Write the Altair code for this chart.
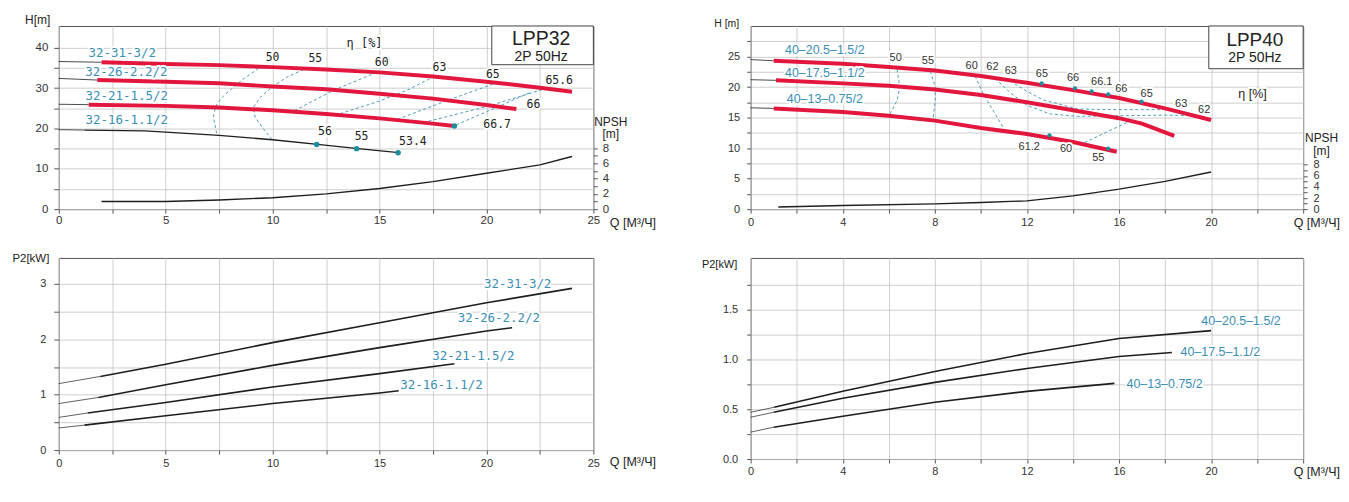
import altair as alt
import pandas as pd

# ===================== DATA =====================
# ---------- LPP32 : H-Q ----------
lpp32_names = ["32-31-3/2", "32-26-2.2/2", "32-21-1.5/2", "32-16-1.1/2"]
lpp32_h_at_zero = [36.6, 32.4, 26.0, 19.7]
q_32_31 = [2.0, 5.0, 7.5, 10.0, 12.5, 15.0, 17.5, 20.0, 22.5, 24.0]
h_32_31 = [36.4, 36.0, 35.7, 35.2, 34.6, 33.9, 32.9, 31.6, 30.1, 29.1]
q_32_26 = [1.8, 5.0, 7.5, 10.0, 12.5, 15.0, 17.5, 20.0, 21.4]
h_32_26 = [32.0, 31.6, 31.2, 30.4, 29.7, 28.6, 27.4, 25.8, 24.8]
q_32_21 = [1.4, 5.0, 7.5, 10.0, 12.5, 15.0, 17.5, 18.5]
h_32_21 = [25.9, 25.6, 25.2, 24.5, 23.6, 22.5, 21.2, 20.6]
q_32_16 = [1.2, 4.0, 5.0, 7.5, 10.0, 12.1, 14.0, 15.9]
h_32_16 = [19.6, 19.4, 19.1, 18.3, 17.2, 16.05, 15.0, 14.0]
q_npsh32 = [2.0, 5.0, 7.5, 10.0, 12.5, 15.0, 17.5, 20.0, 22.5, 24.0]
npsh32 = [1.0, 1.0, 1.2, 1.5, 2.0, 2.7, 3.6, 4.7, 5.8, 6.9]
eff32_names = ["50", "55", "60", "63", "65", "65.6", "66"]
eff32_q = [
    [9.34, 8.64, 8.17, 7.71, 7.40, 7.24, 7.27, 7.40],
    [11.44, 10.66, 9.96, 9.42, 9.11, 9.18, 9.57, 9.96],
    [14.86, 12.83, 10.97],
    [17.34, 16.3, 15.0, 13.0],
    [20.3, 18.0, 15.8],
    [22.6, 20.0, 17.0],
    [22.0, 20.2, 18.5],
]
eff32_h = [
    [34.9, 32.3, 30.2, 28.1, 26.1, 23.6, 21.6, 18.5],
    [34.6, 32.7, 30.2, 27.7, 25.3, 22.8, 19.9, 17.3],
    [33.9, 29.4, 24.3],
    [32.3, 29.5, 26.8, 23.4],
    [31.0, 26.6, 22.2],
    [29.6, 25.4, 21.4],
    [28.8, 24.6, 20.7],
]
eff32_lbl = ["50", "55", "60", "63", "65", "65.6", "66", "66.7", "56", "55", "53.4"]
eff32_lbl_q = [10.0, 12.0, 15.1, 17.8, 20.3, 23.4, 22.2, 20.5, 12.45, 14.16, 16.56]
eff32_lbl_h = [37.5, 37.3, 36.2, 35.1, 33.3, 31.8, 25.8, 20.9, 19.1, 17.9, 16.6]
dots32_q = [12.06, 13.93, 15.87, 18.5]
dots32_h = [16.05, 15.0, 14.0, 20.6]
name32_q = [2.97, 3.16, 3.18, 3.18]
name32_h = [38.7, 33.9, 28.0, 22.1]

# ---------- LPP40 : H-Q ----------
lpp40_names = ["40–20.5–1.5/2", "40–17.5–1.1/2", "40–13–0.75/2"]
lpp40_h_at_zero = [24.5, 21.2, 16.6]
q_40_20 = [1.0, 4.0, 6.0, 8.0, 10.0, 12.0, 14.0, 16.0, 18.0, 20.0]
h_40_20 = [24.3, 23.8, 23.3, 22.7, 21.8, 20.7, 19.5, 18.2, 16.5, 14.6]
q_40_17 = [1.1, 4.0, 6.0, 8.0, 10.0, 12.0, 14.0, 16.0, 17.0, 18.4]
h_40_17 = [21.1, 20.6, 20.2, 19.6, 18.7, 17.5, 16.2, 14.9, 14.0, 12.0]
q_40_13 = [1.0, 4.0, 6.0, 8.0, 10.0, 12.0, 14.0, 15.9]
h_40_13 = [16.5, 15.9, 15.3, 14.5, 13.3, 12.3, 11.0, 9.4]
q_npsh40 = [1.2, 4.0, 8.0, 10.0, 12.0, 14.0, 16.0, 18.0, 20.0]
npsh40 = [0.4, 0.65, 0.95, 1.2, 1.5, 2.4, 3.6, 5.0, 6.7]
eff40_names = ["50", "55", "60", "62", "63", "55b"]
eff40_q = [
    [6.36, 6.48, 6.36, 6.04],
    [7.80, 8.02, 8.02, 7.92],
    [9.75, 10.1, 10.98],
    [10.62, 11.3, 12.0, 13.0, 14.2, 16.0, 18.0, 19.4],
    [11.27, 12.0, 12.7, 14.2, 16.0, 18.2],
    [14.5, 16.4],
]
eff40_h = [
    [22.9, 20.0, 17.8, 15.5],
    [22.6, 20.0, 17.8, 14.8],
    [21.8, 18.9, 13.3],
    [21.4, 19.0, 17.0, 15.6, 15.2, 15.3, 15.4, 15.3],
    [21.0, 19.3, 17.9, 16.4, 16.3, 16.3],
    [10.9, 14.3],
]
eff40_lbl = ["50", "55", "60", "62", "63", "65", "66", "66.1", "66", "65", "63", "62", "61.2", "60", "55"]
eff40_lbl_q = [6.3, 7.7, 9.6, 10.5, 11.3, 12.65, 14.0, 15.25, 16.1, 17.2, 18.7, 19.7, 12.1, 13.7, 15.1]
eff40_lbl_h = [24.7, 24.2, 23.4, 23.2, 22.7, 22.1, 21.4, 20.8, 19.7, 18.9, 17.2, 16.2, 10.2, 9.8, 8.3]
dots40_q = [12.64, 14.09, 14.81, 15.53, 16.98, 12.98, 15.53]
dots40_h = [20.6, 19.8, 19.3, 18.8, 17.6, 12.1, 9.9]
name40_q = [3.22, 3.22, 3.22]
name40_h = [26.1, 22.3, 18.0]

# ---------- LPP32 : P2-Q ----------
p2_32_at_zero = [1.20, 0.84, 0.59, 0.40]
pq_32_31 = [1.94, 5.0, 10.0, 15.0, 20.0, 24.0]
p_32_31 = [1.33, 1.55, 1.94, 2.30, 2.66, 2.92]
pq_32_26 = [1.85, 5.0, 10.0, 15.0, 20.0, 21.2]
p_32_26 = [0.95, 1.18, 1.53, 1.85, 2.15, 2.21]
pq_32_21 = [1.35, 5.0, 10.0, 15.0, 18.5]
p_32_21 = [0.67, 0.86, 1.14, 1.38, 1.56]
pq_32_16 = [1.2, 5.0, 10.0, 15.0, 15.9]
p_32_16 = [0.45, 0.62, 0.84, 1.03, 1.07]
pname32_q = [21.46, 20.58, 19.39, 17.9]
pname32_p = [3.0, 2.39, 1.70, 1.17]

# ---------- LPP40 : P2-Q ----------
p2_40_at_zero = [0.47, 0.42, 0.27]
pq_40_20 = [1.02, 4.0, 8.0, 12.0, 16.0, 20.0]
p_40_20 = [0.52, 0.68, 0.88, 1.06, 1.21, 1.29]
pq_40_17 = [1.0, 4.0, 8.0, 12.0, 16.0, 18.3]
p_40_17 = [0.47, 0.61, 0.77, 0.91, 1.03, 1.07]
pq_40_13 = [1.0, 4.0, 8.0, 12.0, 15.8]
p_40_13 = [0.32, 0.43, 0.57, 0.68, 0.76]
pname40_q = [21.3, 20.4, 17.98]
pname40_p = [1.39, 1.07, 0.75]

# ---------- tick values ----------
ticks_q25 = [0, 2.5, 5, 7.5, 10, 12.5, 15, 17.5, 20, 22.5, 25]
ticks_q24 = [0, 2, 4, 6, 8, 10, 12, 14, 16, 18, 20, 22, 24]
ticks_h45 = [0, 5, 10, 15, 20, 25, 30, 35, 40]
ticks_h30 = [0, 2.5, 5, 7.5, 10, 12.5, 15, 17.5, 20, 22.5, 25, 27.5]
ticks_npsh = [0, 1, 2, 3, 4, 5, 6, 7, 8]
ticks_p35 = [0, 0.5, 1, 1.5, 2, 2.5, 3]
ticks_p2 = [0, 0.25, 0.5, 0.75, 1, 1.25, 1.5, 1.75]

# ===================== STYLE =====================
FONT = "Liberation Sans"
MONO = "DejaVu Sans Mono"
RED = "#e3173e"
TEAL_TXT = "#3a8fb7"
TEAL_DASH = "#4f9cc0"
DOT = "#1b8e9e"
INK = "#1e1e1e"
GRID = "#c2c2c2"
QTITLE = "Q [М³/Ч]"


def line_df(series):
    rows = []
    for name, qs, vs in series:
        for i, (q, v) in enumerate(zip(qs, vs)):
            rows.append({"c": name, "o": i, "q": q, "v": v})
    return pd.DataFrame(rows)


def thin_df(series, v0s):
    return line_df([(n, [0.0, qs[0]], [v0, vs[0]]) for (n, qs, vs), v0 in zip(series, v0s)])


def text_df(texts, qs, vs):
    return pd.DataFrame({"t": texts, "q": qs, "v": vs})


def mk_axis(values, test, tick, pad, size=11, fmt=None, **kw):
    args = dict(values=values, labelExpr=f"({test}) ? datum.label : ''", tickSize=tick,
                labelPadding=pad, labelFontSize=size, labelFlush=False, labelOverlap=False,
                grid=True, domain=False)
    if fmt:
        args["format"] = fmt
    args.update(kw)
    return alt.Axis(**args)


def lines(df, X, Y, **mk):
    return alt.Chart(df).mark_line(**mk).encode(x=X, y=Y, detail="c:N", order="o:Q")


def texts(df, X, Y, color, size, font, halo=True, align="center"):
    base = alt.Chart(df).encode(x=X, y=Y, text="t:N")
    out = []
    if halo:
        out.append(base.mark_text(font=font, fontSize=size, align=align, baseline="middle",
                                  color="white", stroke="white", strokeWidth=4, strokeJoin="round"))
    out.append(base.mark_text(font=font, fontSize=size, align=align, baseline="middle", color=color))
    return out


def qtitle(tx, ty):
    return dict(title=QTITLE, titleX=tx, titleY=ty, titleAlign="left", titleBaseline="middle",
                titleFontSize=12.5, titleAngle=0)


def ytitle(t, tx, ty, size):
    return dict(title=t, titleX=tx, titleY=ty, titleAlign="right", titleBaseline="middle",
                titleFontSize=size, titleAngle=0)


# ===================== PANEL LPP32 H-Q =====================
X1 = alt.X("q:Q", scale=alt.Scale(domain=[0, 25], nice=False),
           axis=mk_axis(ticks_q25, "datum.value % 5 === 0", 4, 1.5, 11.5, **qtitle(553, 13)))
Y1 = alt.Y("v:Q", scale=alt.Scale(domain=[0, 45.4], nice=False),
           axis=mk_axis(ticks_h45, "datum.value % 10 === 0", 5, 6, 11.5, **ytitle("H[m]", -9, -6, 12)))

red32 = [(lpp32_names[0], q_32_31, h_32_31), (lpp32_names[1], q_32_26, h_32_26),
         (lpp32_names[2], q_32_21, h_32_21)]
blk32 = [(lpp32_names[3], q_32_16, h_32_16)]
thin32 = thin_df(red32 + blk32, lpp32_h_at_zero)

lt_layers = [
    lines(line_df(list(zip(eff32_names, eff32_q, eff32_h))), X1, Y1,
          color=TEAL_DASH, strokeWidth=1, strokeDash=[3, 2.5]),
    lines(thin32, X1, Y1, color=INK, strokeWidth=0.8),
    lines(line_df(red32), X1, Y1, color=RED, strokeWidth=4),
    lines(line_df(blk32), X1, Y1, color=INK, strokeWidth=1.4),
    alt.Chart(pd.DataFrame({"q": dots32_q, "v": dots32_h})).mark_circle(size=30, color=DOT, opacity=1)
    .encode(x=X1, y=Y1),
]
lt_layers += texts(text_df(eff32_lbl, eff32_lbl_q, eff32_lbl_h), X1, Y1, "#222", 11.5, MONO)
lt_layers += texts(text_df(lpp32_names, name32_q, name32_h), X1, Y1, TEAL_TXT, 12.5, MONO)
lt_layers += texts(text_df(["η [%]"], [14.3], [41.1]), X1, Y1, "#222", 12, MONO)
lt_layers.append(alt.Chart(pd.DataFrame({"q": [20.25], "q2": [25], "v": [35.8], "v2": [45.4]}))
                 .mark_rect(fill="white", stroke="#444", strokeWidth=1)
                 .encode(x=X1, x2="q2:Q", y=Y1, y2="v2:Q"))
lt_layers += texts(text_df(["LPP32"], [22.56], [42.2]), X1, Y1, "#222", 19.5, FONT, halo=False)
lt_layers += texts(text_df(["2P 50Hz"], [22.56], [37.8]), X1, Y1, "#222", 14, FONT, halo=False)

npsh_ax1 = alt.Axis(orient="right", values=ticks_npsh, labelExpr="datum.value % 2 === 0 ? datum.label : ''",
                    grid=False, domain=False, tickSize=4, labelPadding=5, labelFontSize=11.5,
                    labelFlush=False, labelOverlap=False,
                    title=["NPSH", "[m]"], titleAngle=0, titleX=17, titleY=91, titleAlign="center",
                    titleBaseline="top", titleLineHeight=12, titleFontSize=12)
npsh1 = alt.Chart(pd.DataFrame({"q": q_npsh32, "n": npsh32})).mark_line(color=INK, strokeWidth=1.4).encode(
    x=X1, y=alt.Y("n:Q", scale=alt.Scale(domain=[0, 24], nice=False), axis=npsh_ax1))

LT = alt.layer(alt.layer(*lt_layers), npsh1).resolve_scale(y="independent").properties(width=537, height=184)

# ===================== PANEL LPP40 H-Q =====================
X2 = alt.X("q:Q", scale=alt.Scale(domain=[0, 24], nice=False),
           axis=mk_axis(ticks_q24, "datum.value % 4 === 0 && datum.value < 24", 4, 3.5, 11, **qtitle(545, 13)))
Y2 = alt.Y("v:Q", scale=alt.Scale(domain=[0, 30], nice=False),
           axis=mk_axis(ticks_h30, "datum.value % 5 === 0", 4, 7, 11, **ytitle("H [m]", -12, -2, 10.5)))

red40 = [(lpp40_names[0], q_40_20, h_40_20), (lpp40_names[1], q_40_17, h_40_17),
         (lpp40_names[2], q_40_13, h_40_13)]
rt_layers = [
    lines(line_df(list(zip(eff40_names, eff40_q, eff40_h))), X2, Y2,
          color=TEAL_DASH, strokeWidth=1, strokeDash=[3, 2.5]),
    lines(thin_df(red40, lpp40_h_at_zero), X2, Y2, color=INK, strokeWidth=0.8),
    lines(line_df(red40), X2, Y2, color=RED, strokeWidth=4),
    alt.Chart(pd.DataFrame({"q": dots40_q, "v": dots40_h})).mark_circle(size=18, color=DOT, opacity=1)
    .encode(x=X2, y=Y2),
]
rt_layers += texts(text_df(eff40_lbl, eff40_lbl_q, eff40_lbl_h), X2, Y2, "#333", 11, FONT)
rt_layers += texts(text_df(lpp40_names, name40_q, name40_h), X2, Y2, TEAL_TXT, 12.5, FONT)
rt_layers += texts(text_df(["η [%]"], [21.8], [18.8]), X2, Y2, "#222", 12.5, FONT)
rt_layers.append(alt.Chart(pd.DataFrame({"q": [19.9], "q2": [24], "v": [23.0], "v2": [30]}))
                 .mark_rect(fill="white", stroke="#444", strokeWidth=1)
                 .encode(x=X2, x2="q2:Q", y=Y2, y2="v2:Q"))
rt_layers += texts(text_df(["LPP40"], [21.9], [27.7]), X2, Y2, "#222", 19, FONT, halo=False)
rt_layers += texts(text_df(["2P 50Hz"], [21.9], [24.8]), X2, Y2, "#222", 14, FONT, halo=False)

npsh_ax2 = alt.Axis(orient="right", values=ticks_npsh, labelExpr="datum.value % 2 === 0 ? datum.label : ''",
                    grid=False, domain=False, tickSize=4, labelPadding=6, labelFontSize=11,
                    labelFlush=False, labelOverlap=False,
                    title=["NPSH", "[m]"], titleAngle=0, titleX=18, titleY=107, titleAlign="center",
                    titleBaseline="top", titleLineHeight=13, titleFontSize=12)
npsh2 = alt.Chart(pd.DataFrame({"q": q_npsh40, "n": npsh40})).mark_line(color=INK, strokeWidth=1.4).encode(
    x=X2, y=alt.Y("n:Q", scale=alt.Scale(domain=[0, 33], nice=False), axis=npsh_ax2))

RT = alt.layer(alt.layer(*rt_layers), npsh2).resolve_scale(y="independent").properties(width=555, height=184)

# ===================== PANEL LPP32 P2-Q =====================
X3 = alt.X("q:Q", scale=alt.Scale(domain=[0, 25], nice=False),
           axis=mk_axis(ticks_q25, "datum.value % 5 === 0", 4, 3.5, 11, **qtitle(553, 12)))
Y3 = alt.Y("v:Q", scale=alt.Scale(domain=[0, 3.47], nice=False),
           axis=mk_axis(ticks_p35, "datum.value % 1 === 0", 5, 8, 11, fmt=".0f",
                        **ytitle("P2[kW]", -10, 1, 11.5)))
p32 = [(lpp32_names[0], pq_32_31, p_32_31), (lpp32_names[1], pq_32_26, p_32_26),
       (lpp32_names[2], pq_32_21, p_32_21), (lpp32_names[3], pq_32_16, p_32_16)]
lb_layers = [
    lines(thin_df(p32, p2_32_at_zero), X3, Y3, color=INK, strokeWidth=0.7),
    lines(line_df(p32), X3, Y3, color=INK, strokeWidth=1.6),
]
lb_layers += texts(text_df(lpp32_names, pname32_q, pname32_p), X3, Y3, TEAL_TXT, 12.5, MONO)
LB = alt.layer(*lb_layers).properties(width=537, height=193)

# ===================== PANEL LPP40 P2-Q =====================
X4 = alt.X("q:Q", scale=alt.Scale(domain=[0, 24], nice=False),
           axis=mk_axis(ticks_q24, "datum.value % 4 === 0 && datum.value < 24", 4, 2.5, 11, **qtitle(545, 13)))
Y4 = alt.Y("v:Q", scale=alt.Scale(domain=[0, 2.02], nice=False),
           axis=mk_axis(ticks_p2, "datum.value % 0.5 === 0", 4, 9, 11, fmt=".1f",
                        **ytitle("P2[kW]", -14, 7, 11)))
p40 = [(lpp40_names[0], pq_40_20, p_40_20), (lpp40_names[1], pq_40_17, p_40_17),
       (lpp40_names[2], pq_40_13, p_40_13)]
rb_layers = [
    lines(thin_df(p40, p2_40_at_zero), X4, Y4, color=INK, strokeWidth=0.7),
    lines(line_df(p40), X4, Y4, color=INK, strokeWidth=1.6),
]
rb_layers += texts(text_df(lpp40_names, pname40_q, pname40_p), X4, Y4, TEAL_TXT, 12.5, FONT)
RB = alt.layer(*rb_layers).properties(width=555, height=202)

# ===================== LAYOUT =====================
chart = alt.concat(
    LT, RT, LB, RB, columns=2, spacing={"row": 49, "column": 158}, bounds="flush", align="each"
).properties(
    padding={"left": 3, "top": 4, "right": 0, "bottom": 0}, background="white"
).configure_view(
    stroke="#555", strokeWidth=1
).configure_axis(
    labelFont=FONT, titleFont=FONT, titleFontWeight="normal", labelColor="#333", titleColor="#222",
    tickColor="#555", gridColor=GRID, gridWidth=0.8
)

chart.save("out.html", embed_options={"renderer": "svg", "actions": False})
